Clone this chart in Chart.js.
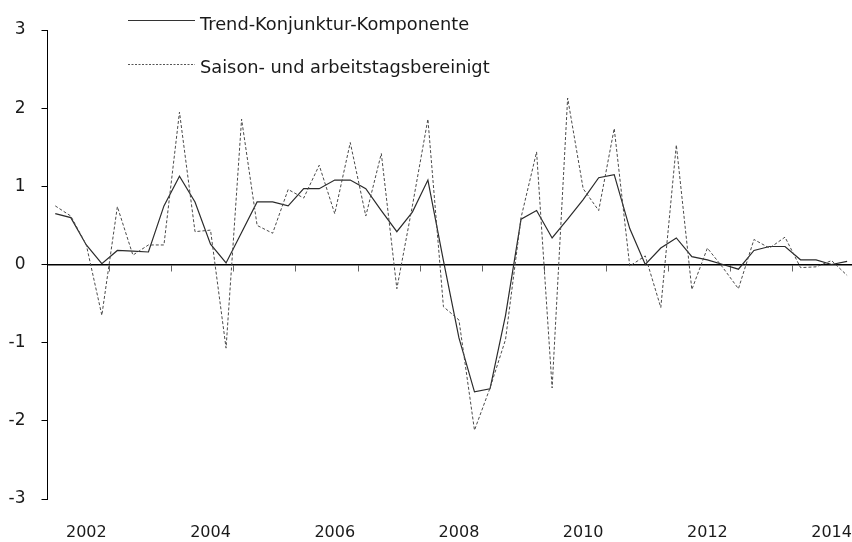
<!DOCTYPE html>
<html>
<head>
<meta charset="utf-8">
<script src="https://cdn.jsdelivr.net/npm/chart.js@4"></script>
<style>
  body { margin: 0; background: #fff; }
  #wrap { position: relative; width: 852px; height: 542px; }
  #legend { position: absolute; left: 0; top: 0; pointer-events: none; }
  #legend text { font-family: "DejaVu Sans", sans-serif; font-size: 17.8px; fill: #1a1a1a; }
</style>
</head>
<body>
<div id="wrap">
  <canvas id="chart" width="852" height="542"></canvas>
  <svg id="legend" width="852" height="90">
    <line x1="128" y1="20.5" x2="195" y2="20.5" stroke="#333" stroke-width="1"/>
    <text x="200" y="30">Trend-Konjunktur-Komponente</text>
    <line x1="128" y1="64.5" x2="195" y2="64.5" stroke="#555" stroke-width="1" stroke-dasharray="2,1.5"/>
    <text x="200" y="73">Saison- und arbeitstagsbereinigt</text>
  </svg>
</div>
<script>
// Quartale 2002 Q1 bis 2014 Q4
const years = [2002, 2003, 2004, 2005, 2006, 2007, 2008, 2009, 2010, 2011, 2012, 2013, 2014];
const quarters = [];
years.forEach(function(y) {
    ['Q1', 'Q2', 'Q3', 'Q4'].forEach(function(q) { quarters.push(y + ' ' + q); });
});

// Trend-Konjunktur-Komponente
const trend = [
    0.65, 0.60, 0.25, 0.01, 0.18, 0.17, 0.16, 0.75,
    1.13, 0.80, 0.26, 0.02, 0.41, 0.80, 0.80, 0.75,
    0.97, 0.97, 1.08, 1.08, 0.97, 0.69, 0.42, 0.67,
    1.08, 0.05, -0.94, -1.63, -1.59, -0.65, 0.58, 0.69,
    0.34, 0.58, 0.83, 1.11, 1.15, 0.46, 0.00, 0.21,
    0.34, 0.10, 0.06, 0.00, -0.06, 0.18, 0.23, 0.23,
    0.06, 0.06, 0.00, 0.04
];

// Saison- und arbeitstagsbereinigt
const adjusted = [
    0.75, 0.62, 0.25, -0.65, 0.74, 0.12, 0.25, 0.25,
    1.95, 0.42, 0.44, -1.07, 1.86, 0.50, 0.40, 0.96,
    0.85, 1.27, 0.65, 1.56, 0.62, 1.42, -0.31, 0.75,
    1.86, -0.54, -0.71, -2.12, -1.58, -0.96, 0.60, 1.44,
    -1.58, 2.13, 0.97, 0.69, 1.74, -0.02, 0.11, -0.55,
    1.53, -0.32, 0.21, -0.04, -0.31, 0.32, 0.21, 0.35,
    -0.04, -0.03, 0.05, -0.14
];

// Achsenbeschriftungen
const yearLabels = ['2002', '2004', '2006', '2008', '2010', '2012', '2014'];
const yTicks = [-3, -2, -1, 0, 1, 2, 3];

const firstYear = years[0];
const xMin = -0.5;
const xMax = 51.25;

function toPoints(values) {
    return values.map(function(v, i) { return { x: i, y: v }; });
}

// Jahreslabel im dritten Quartal, Striche an den Jahresgrenzen
const labelTicks = yearLabels.map(function(y) { return { value: (Number(y) - firstYear) * 4 + 2 }; });
const boundaryTicks = years.map(function(y, i) { return { value: i * 4 - 0.5 }; });

new Chart(document.getElementById('chart'), {
    type: 'line',
    data: {
        datasets: [{
            label: 'Saison- und arbeitstagsbereinigt',
            data: toPoints(adjusted),
            borderColor: '#4a4a4a',
            borderWidth: 1,
            borderDash: [3, 2],
            pointRadius: 0,
            tension: 0,
            fill: false
        }, {
            label: 'Trend-Konjunktur-Komponente',
            data: toPoints(trend),
            borderColor: '#2b2b2b',
            borderWidth: 1.2,
            pointRadius: 0,
            tension: 0,
            fill: false
        }]
    },
    options: {
        responsive: false,
        animation: false,
        layout: { padding: { top: 30, right: 1, left: 0, bottom: 0 } },
        plugins: {
            legend: { display: false },
            tooltip: { enabled: false }
        },
        scales: {
            x: {
                type: 'linear',
                min: xMin,
                max: xMax,
                position: 'bottom',
                grid: { display: false, drawTicks: false },
                border: { display: false },
                afterBuildTicks: function(scale) { scale.ticks = labelTicks.map(function(t) { return { value: t.value }; }); },
                afterFit: function(scale) {
                    scale.height = 43;
                    scale.paddingLeft = 0;
                    scale.paddingRight = 0;
                },
                ticks: {
                    padding: 24,
                    maxRotation: 0,
                    autoSkip: false,
                    color: '#1a1a1a',
                    font: { family: 'DejaVu Sans', size: 16 },
                    callback: function(value) {
                        const idx = labelTicks.findIndex(function(t) { return t.value === value; });
                        return idx >= 0 ? yearLabels[idx] : '';
                    }
                }
            },
            xZero: {
                type: 'linear',
                axis: 'x',
                min: xMin,
                max: xMax,
                position: { y: 0 },
                grid: { drawOnChartArea: false, drawTicks: true, tickLength: 6, color: '#666', lineWidth: 1 },
                border: { display: true, color: '#000', width: 1.5 },
                afterBuildTicks: function(scale) { scale.ticks = boundaryTicks.map(function(t) { return { value: t.value }; }); },
                ticks: { display: false }
            },
            y: {
                min: yTicks[0],
                max: yTicks[yTicks.length - 1],
                afterBuildTicks: function(scale) { scale.ticks = yTicks.map(function(v) { return { value: v }; }); },
                afterFit: function(scale) { scale.width = 47.5; },
                grid: { drawOnChartArea: false, drawTicks: true, tickLength: 6, color: '#000' },
                border: { display: true, color: '#000', width: 1 },
                ticks: {
                    padding: 16,
                    color: '#1a1a1a',
                    font: { family: 'DejaVu Sans', size: 17 }
                }
            }
        }
    }
});
</script>
</body>
</html>
